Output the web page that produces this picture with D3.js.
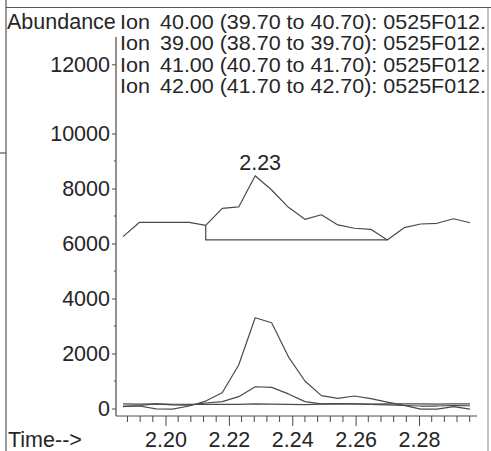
<!DOCTYPE html>
<html>
<head>
<meta charset="utf-8">
<script src="https://cdn.jsdelivr.net/npm/d3@7"></script>
<style>
  html, body { margin: 0; padding: 0; background: #fff; }
  svg { display: block; }
  text { font-family: "Liberation Sans", Arial, sans-serif; font-size: 21.5px; fill: #262626; }
</style>
</head>
<body>
<svg id="chart" width="491" height="451"></svg>
<script>
// Retention times (min) of the scans
const times = [2.1866, 2.1918, 2.1970, 2.2022, 2.2075, 2.2127, 2.2179, 2.2231, 2.2283, 2.2335, 2.2388,
               2.2440, 2.2492, 2.2544, 2.2596, 2.2648, 2.2700, 2.2753, 2.2805, 2.2857, 2.2909, 2.2961];

// Extracted ion abundances, one array per ion
const ion40 = [6250, 6770, 6770, 6770, 6770, 6660, 7280, 7330, 8465, 7945, 7315,
               6880, 7045, 6675, 6555, 6515, 6130, 6575, 6710, 6735, 6900, 6755];
const ion39 = [70, 110, 170, 130, 120, 200, 250, 430, 790, 770, 530,
               250, 165, 180, 170, 150, 130, 110, 90, 90, 110, 100];
const ion41 = [90, 90, -15, -20, 90, 270, 575, 1580, 3300, 3120, 1880,
               1000, 470, 370, 455, 360, 235, 115, -20, -20, 65, -20];
const ion42 = [165, 160, 165, 155, 150, 150, 150, 150, 165, 160, 150,
               140, 160, 165, 165, 160, 165, 165, 165, 160, 165, 165];

// Legend entries
const legendLines = [
  "40.00 (39.70 to 40.70): 0525F012.",
  "39.00 (38.70 to 39.70): 0525F012.",
  "41.00 (40.70 to 41.70): 0525F012.",
  "42.00 (41.70 to 42.70): 0525F012."
];

// Axis ticks
const yTicks = [0, 2000, 4000, 6000, 8000, 10000, 12000];
const yMinor = [1000, 3000, 5000, 7000, 9000];
const xTicks = [2.20, 2.22, 2.24, 2.26, 2.28];

// Integrated peak on ion 40
const peakLabel = "2.23";
const integStart = 2.2127, integEnd = 2.2700, integLevel = 6130;

const svg = d3.select("#chart");
const ink = "#4a4a4a";
const fontPx = 21.5;

const x = d3.scaleLinear().domain([2.20, 2.28]).range([165.5, 419]);
// The abundance axis is compressed above 10000 where the legend sits
const y = d3.scaleLinear().domain([0, 10000, 12000]).range([408.5, 133.5, 64.3]);

// Outer frame
const frame = svg.append("g").attr("stroke", "#555").attr("stroke-width", 1.2).attr("fill", "none");
frame.append("line").attr("x1", 6).attr("x2", 491).attr("y1", 7.5).attr("y2", 7.5);
frame.append("line").attr("x1", 6).attr("x2", 6).attr("y1", 0).attr("y2", 451);
frame.append("line").attr("x1", 488).attr("x2", 488).attr("y1", 7.5).attr("y2", 451).attr("stroke", "#999");
frame.append("line").attr("x1", 0).attr("x2", 6).attr("y1", 153).attr("y2", 153);

// Axis lines
const axisLeftX = 116, axisBottomY = 416;
svg.append("line").attr("x1", axisLeftX).attr("x2", axisLeftX).attr("y1", 37).attr("y2", axisBottomY)
  .attr("stroke", ink).attr("stroke-width", 1.2);
svg.append("line").attr("x1", axisLeftX).attr("x2", 477).attr("y1", axisBottomY).attr("y2", axisBottomY)
  .attr("stroke", ink).attr("stroke-width", 1.2);

// Y axis
const yAxis = svg.append("g").attr("transform", `translate(${axisLeftX},0)`)
  .call(d3.axisLeft(y).tickValues(yTicks).tickSize(4).tickPadding(2).tickFormat(d3.format("d")));
yAxis.select(".domain").remove();
yAxis.selectAll(".tick line").attr("stroke", ink);
yAxis.selectAll(".tick text").attr("font-size", fontPx).attr("font-family", null).attr("fill", "#262626");
svg.append("g").selectAll("line").data(yMinor).join("line")
  .attr("x1", axisLeftX - 2).attr("x2", axisLeftX)
  .attr("y1", d => y(d)).attr("y2", d => y(d)).attr("stroke", ink);

// X axis
const xAxis = svg.append("g").attr("transform", `translate(0,${axisBottomY})`)
  .call(d3.axisBottom(x).tickValues(xTicks).tickSize(10).tickPadding(6).tickFormat(d3.format(".2f")));
xAxis.select(".domain").remove();
xAxis.selectAll(".tick line").attr("stroke", ink);
xAxis.selectAll(".tick text").attr("font-size", fontPx).attr("font-family", null).attr("fill", "#262626");
const xMinor = d3.range(2.188, 2.297, 0.004).filter(t => !xTicks.some(v => Math.abs(v - t) < 1e-6));
svg.append("g").selectAll("line").data(xMinor).join("line")
  .attr("x1", d => x(d)).attr("x2", d => x(d))
  .attr("y1", axisBottomY).attr("y2", axisBottomY + 6).attr("stroke", ink);

// Axis titles
svg.append("text").attr("x", 7).attr("y", 29).text("Abundance");
svg.append("text").attr("x", 8).attr("y", 447).text("Time-->");

// Legend: rows are tightly packed, so the glyphs are set at 21px and stretched to width
const legend = svg.append("g").attr("font-size", 21);
legendLines.forEach((s, i) => {
  const by = 29 + i * 21.3;
  legend.append("text").attr("x", 120).attr("y", by).style("font-size", "21px")
    .attr("textLength", 30).attr("lengthAdjust", "spacingAndGlyphs").text("Ion");
  legend.append("text").attr("x", 160).attr("y", by).style("font-size", "21px")
    .attr("textLength", 326).attr("lengthAdjust", "spacingAndGlyphs").text(s);
});

// Traces
const line = d3.line().x((d, i) => x(times[i])).y(d => y(d));
[ion40, ion39, ion41, ion42].forEach(series => {
  svg.append("path").datum(series).attr("d", line)
    .attr("fill", "none").attr("stroke", ink).attr("stroke-width", 1.2).attr("stroke-linejoin", "round");
});

// Integration baseline for the ion 40 peak
const iStart = times.indexOf(integStart);
svg.append("path")
  .attr("d", d3.line()([[x(integStart), y(ion40[iStart])], [x(integStart), y(integLevel)], [x(integEnd), y(integLevel)]]))
  .attr("fill", "none").attr("stroke", ink).attr("stroke-width", 1.2);

// Peak retention time label
const iPeak = d3.maxIndex(ion40);
svg.append("text").attr("x", x(times[iPeak]) + 5).attr("y", y(ion40[iPeak]) - 6)
  .attr("text-anchor", "middle").text(peakLabel);
</script>
</body>
</html>
